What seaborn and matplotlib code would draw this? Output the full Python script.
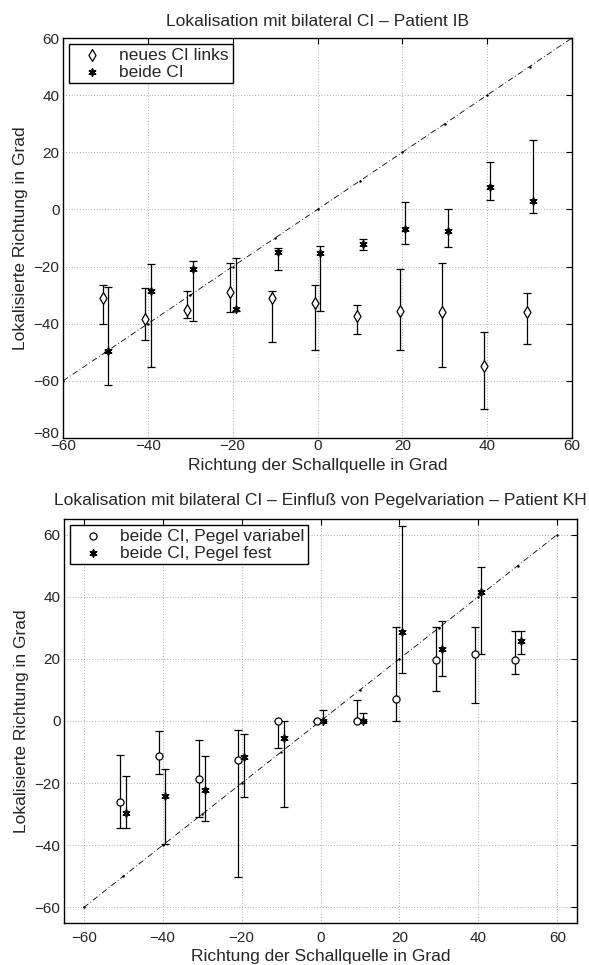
import matplotlib
matplotlib.use("Agg")
import matplotlib.pyplot as plt
import matplotlib.transforms as mtransforms
import seaborn as sns
import pandas as pd
import numpy as np

# ---------------- data ----------------
# Top panel: Patient IB
angles = [-50, -40, -30, -20, -10, 0, 10, 20, 30, 40, 50]
links_mean = [-31.0, -38.4, -35.1, -29.0, -31.0, -32.6, -37.2, -35.7, -35.9, -54.7, -36.0]
links_hi = [-26.6, -27.6, -28.7, -18.8, -28.7, -26.6, -33.4, -20.8, -18.6, -42.9, -29.1]
links_lo = [-40.0, -45.6, -38.0, -35.9, -46.5, -49.1, -43.6, -49.3, -55.1, -69.7, -47.2]
beide_mean = [-49.7, -28.7, -20.8, -34.9, -14.8, -15.3, -12.1, -7.0, -7.6, 7.9, 2.8]
beide_hi = [-27.2, -19.1, -18.0, -16.9, -13.6, -12.9, -10.3, 2.6, 0.0, 16.6, 24.3]
beide_lo = [-61.6, -55.1, -39.0, -35.7, -21.2, -35.5, -14.2, -12.1, -13.2, 3.2, -1.3]

# Bottom panel: Patient KH
var_mean = [-26.2, -11.3, -18.7, -12.4, 0.0, 0.0, 0.0, 7.2, 19.7, 21.5, 19.7]
var_hi = [-10.9, -3.2, -6.2, -3.0, 0.0, 0.0, 6.6, 30.1, 30.4, 30.4, 29.0]
var_lo = [-34.4, -17.1, -30.8, -50.3, -8.6, 0.0, 0.0, 0.0, 9.5, 5.8, 15.1]
fest_mean = [-29.7, -24.2, -22.2, -11.6, -5.5, 0.0, 0.0, 28.5, 23.1, 41.6, 25.8]
fest_hi = [-17.8, -15.3, -11.3, -4.1, 0.0, 3.6, 2.6, 62.7, 32.3, 49.5, 29.0]
fest_lo = [-34.4, -39.6, -32.1, -24.4, -27.6, 0.0, 0.0, 15.6, 14.5, 21.7, 21.5]

diag = [-60, -50, -40, -30, -20, -10, 0, 10, 20, 30, 40, 50, 60]

title_top = "Lokalisation mit bilateral CI – Patient IB"
title_bot = "Lokalisation mit bilateral CI – Einfluß von Pegelvariation – Patient KH"
xlab = "Richtung der Schallquelle in Grad"
ylab = "Lokalisierte Richtung in Grad"

# ---------------- style ----------------
sns.set_style("white")
plt.rcParams["font.family"] = ["Liberation Sans", "DejaVu Sans"]
plt.rcParams["font.size"] = 12
plt.rcParams["axes.unicode_minus"] = True

fig = plt.figure(figsize=(5.89, 9.65), dpi=100)
ax1 = fig.add_axes([63/589, 1-438/965, 509/589, 400/965])
ax2 = fig.add_axes([64/589, 1-923/965, 513/589, 404/965])

ast = (6, 2, 0)
LBL = 12.5
TCK = 11


def panel(ax, m1, hi1, lo1, m2, hi2, lo2, mk1, s1, lab1, lab2, off1, off2, xpad):
    x1 = np.array(angles) + off1
    x2 = np.array(angles) + off2
    m1, hi1, lo1 = map(np.array, (m1, hi1, lo1))
    m2, hi2, lo2 = map(np.array, (m2, hi2, lo2))
    ax.errorbar(x1, m1, yerr=[m1 - lo1, hi1 - m1], fmt="none", ecolor="black",
                elinewidth=0.9, capsize=2.6, capthick=0.9, zorder=3)
    ax.errorbar(x2, m2, yerr=[m2 - lo2, hi2 - m2], fmt="none", ecolor="black",
                elinewidth=0.9, capsize=2.6, capthick=0.9, zorder=3)
    df1 = pd.DataFrame({"x": x1, "y": m1})
    df2 = pd.DataFrame({"x": x2, "y": m2})
    sns.scatterplot(data=df1, x="x", y="y", ax=ax, marker=mk1, s=s1,
                    facecolor="white", edgecolor="black", linewidth=0.9,
                    zorder=4, label=lab1)
    sns.scatterplot(data=df2, x="x", y="y", ax=ax, marker=ast, s=24,
                    color="black", edgecolor="black", linewidth=1.2,
                    zorder=4, label=lab2)
    dd = pd.DataFrame({"x": diag, "y": diag})
    sns.lineplot(data=dd, x="x", y="y", ax=ax, color="black", lw=0.6,
                 linestyle=(0, (7, 3, 1, 3)), marker="o", markersize=1.8,
                 markeredgewidth=0, zorder=2, legend=False)
    ax.grid(True, color="0.4", linestyle=(0, (1, 3)), linewidth=0.5)
    ax.tick_params(direction="in", top=True, right=True, length=4,
                   width=0.8, labelsize=TCK, color="black")
    ax.tick_params(axis="y", pad=2.5)
    ax.tick_params(axis="x", pad=xpad)
    for s in ax.spines.values():
        s.set_visible(True)
        s.set_color("black")
        s.set_linewidth(1.0)
    ax.set_xlabel(xlab, fontsize=LBL, labelpad=3)
    ax.set_ylabel(ylab, fontsize=LBL, labelpad=4)
    leg = ax.legend(loc="upper left", frameon=True, fancybox=False,
                    edgecolor="black", framealpha=1, fontsize=LBL,
                    borderaxespad=0.35, handletextpad=0.5, borderpad=0.2,
                    labelspacing=0.1, handlelength=2.2, markerscale=1.0)
    leg.get_frame().set_linewidth(1.0)


panel(ax1, links_mean, links_hi, links_lo, beide_mean, beide_hi, beide_lo,
      "d", 36, "neues CI links", "beide CI", -0.65, 0.7, 1.0)
ax1.set_xlim(-60, 60)
ax1.set_ylim(-80, 60)
ax1.set_xticks(range(-60, 61, 20))
ax1.set_yticks(range(-80, 61, 20))
ax1.set_title(title_top, fontsize=LBL, pad=9)

# nudge the bottom-left y tick label up a little so it sits above the x label
shift = mtransforms.ScaledTranslation(0, 4/72, fig.dpi_scale_trans)
ylab0 = ax1.get_yticklabels()[0]
ylab0.set_transform(ylab0.get_transform() + shift)

panel(ax2, var_mean, var_hi, var_lo, fest_mean, fest_hi, fest_lo,
      "o", 26, "beide CI, Pegel variabel", "beide CI, Pegel fest", -0.8, 0.7, 6.0)
ax2.set_xlim(-65, 65)
ax2.set_ylim(-65, 65)
ax2.set_xticks(range(-60, 61, 20))
ax2.set_yticks(range(-60, 61, 20))
ax2.set_title(title_bot, fontsize=12.5, pad=10)

fig.savefig("out.png", dpi=100)
